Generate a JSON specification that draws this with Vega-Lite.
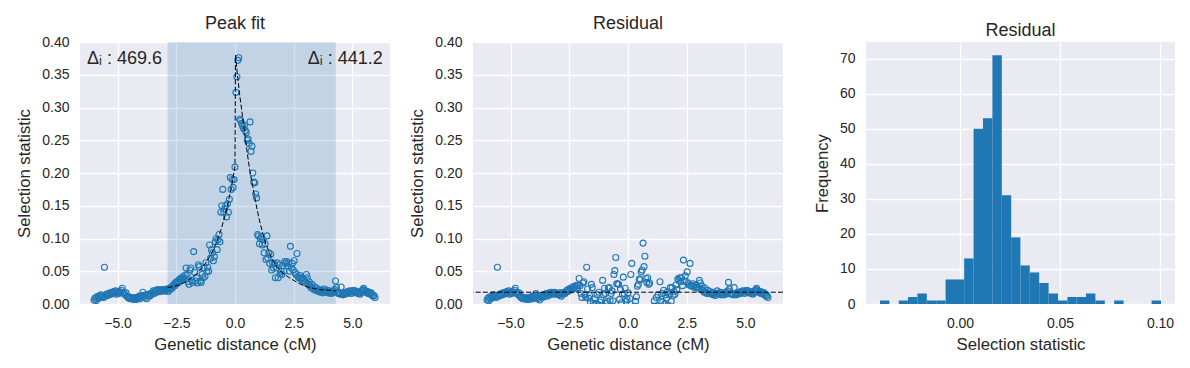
{
"$schema": "https://vega.github.io/schema/vega-lite/v6.json",
"background": "white",
"padding": {"left": 16, "top": 15, "right": 10, "bottom": 5},
"bounds": "flush",
"spacing": 83,
"config": {
  "font": "Liberation Sans",
  "view": {"fill": "#EAEAF2", "stroke": null},
  "axis": {"domain": false, "ticks": false, "tickSize": 0, "grid": true, "gridColor": "#FFFFFF", "gridWidth": 1.3, "labelFontSize": 14, "labelColor": "#262626", "titleFontSize": 16.7, "titleColor": "#262626", "titleFontWeight": "normal", "labelOverlap": false},
  "axisX": {"labelPadding": 12.5, "titlePadding": 6},
  "axisY": {"labelPadding": 11, "titlePadding": 8},
  "title": {"fontSize": 18, "fontWeight": "normal", "color": "#262626", "offset": 2, "frame": "group"}
},
"datasets": {
  "span": [{"x": -2.87, "x2": 4.29}],
  "baseline": [{"b": 0.018}],
  "labels": [{"x": -6.3, "y": 0.366, "label": "Δᵢ : 469.6", "side": "left"}, {"x": 6.29, "y": 0.366, "label": "Δᵢ : 441.2", "side": "right"}],
  "fit": [
    {"x": -2.87, "y": 0.025}, {"x": -2.6, "y": 0.027}, {"x": -2.4, "y": 0.029}, {"x": -2.2, "y": 0.032}, {"x": -2.0, "y": 0.036},
    {"x": -1.8, "y": 0.041}, {"x": -1.6, "y": 0.047}, {"x": -1.4, "y": 0.055}, {"x": -1.2, "y": 0.065}, {"x": -1.0, "y": 0.077},
    {"x": -0.8, "y": 0.093}, {"x": -0.6, "y": 0.113}, {"x": -0.4, "y": 0.138}, {"x": -0.2, "y": 0.170}, {"x": -0.1, "y": 0.189},
    {"x": 0.0, "y": 0.210}, {"x": 0.02, "y": 0.380}, {"x": 0.1, "y": 0.351}, {"x": 0.2, "y": 0.319}, {"x": 0.3, "y": 0.292},
    {"x": 0.4, "y": 0.264}, {"x": 0.5, "y": 0.236}, {"x": 0.6, "y": 0.211}, {"x": 0.7, "y": 0.190}, {"x": 0.8, "y": 0.171},
    {"x": 0.9, "y": 0.152}, {"x": 1.0, "y": 0.134}, {"x": 1.1, "y": 0.119}, {"x": 1.2, "y": 0.106}, {"x": 1.3, "y": 0.093},
    {"x": 1.4, "y": 0.084}, {"x": 1.5, "y": 0.075}, {"x": 1.6, "y": 0.067}, {"x": 1.7, "y": 0.061}, {"x": 1.8, "y": 0.056},
    {"x": 1.9, "y": 0.052}, {"x": 2.0, "y": 0.048}, {"x": 2.2, "y": 0.043}, {"x": 2.4, "y": 0.038}, {"x": 2.6, "y": 0.034},
    {"x": 2.8, "y": 0.030}, {"x": 3.0, "y": 0.027}, {"x": 3.2, "y": 0.025}, {"x": 3.6, "y": 0.022}, {"x": 4.0, "y": 0.021},
    {"x": 4.29, "y": 0.020}
  ],
  "hist": [
    {"start": -0.0400, "end": -0.0353, "count": 1},
    {"start": -0.0306, "end": -0.0260, "count": 1},
    {"start": -0.0260, "end": -0.0213, "count": 2},
    {"start": -0.0213, "end": -0.0166, "count": 3},
    {"start": -0.0166, "end": -0.0119, "count": 1},
    {"start": -0.0119, "end": -0.0072, "count": 1},
    {"start": -0.0072, "end": -0.0025, "count": 7},
    {"start": -0.0025, "end": 0.0021, "count": 7},
    {"start": 0.0021, "end": 0.0068, "count": 13},
    {"start": 0.0068, "end": 0.0115, "count": 50},
    {"start": 0.0115, "end": 0.0162, "count": 53},
    {"start": 0.0162, "end": 0.0209, "count": 71},
    {"start": 0.0209, "end": 0.0256, "count": 31},
    {"start": 0.0256, "end": 0.0302, "count": 19},
    {"start": 0.0302, "end": 0.0349, "count": 11},
    {"start": 0.0349, "end": 0.0396, "count": 9},
    {"start": 0.0396, "end": 0.0443, "count": 6},
    {"start": 0.0443, "end": 0.0490, "count": 3},
    {"start": 0.0490, "end": 0.0537, "count": 1},
    {"start": 0.0537, "end": 0.0583, "count": 2},
    {"start": 0.0583, "end": 0.0630, "count": 2},
    {"start": 0.0630, "end": 0.0677, "count": 3},
    {"start": 0.0677, "end": 0.0724, "count": 1},
    {"start": 0.0771, "end": 0.0818, "count": 1},
    {"start": 0.0958, "end": 0.1005, "count": 1}
  ],
  "points": [
    {"x": -6.00, "y": 0.006, "r": 0.006}, {"x": -5.96, "y": 0.009, "r": 0.009}, {"x": -5.92, "y": 0.005, "r": 0.005}, {"x": -5.88, "y": 0.011, "r": 0.011},
    {"x": -5.84, "y": 0.008, "r": 0.008}, {"x": -5.80, "y": 0.012, "r": 0.012}, {"x": -5.76, "y": 0.010, "r": 0.010}, {"x": -5.72, "y": 0.014, "r": 0.014},
    {"x": -5.68, "y": 0.011, "r": 0.011}, {"x": -5.64, "y": 0.013, "r": 0.013}, {"x": -5.60, "y": 0.010, "r": 0.010}, {"x": -5.56, "y": 0.056, "r": 0.056},
    {"x": -5.52, "y": 0.012, "r": 0.012}, {"x": -5.48, "y": 0.015, "r": 0.015}, {"x": -5.44, "y": 0.013, "r": 0.013}, {"x": -5.40, "y": 0.016, "r": 0.016},
    {"x": -5.36, "y": 0.014, "r": 0.014}, {"x": -5.32, "y": 0.017, "r": 0.017}, {"x": -5.28, "y": 0.015, "r": 0.015}, {"x": -5.24, "y": 0.018, "r": 0.018},
    {"x": -5.20, "y": 0.016, "r": 0.016}, {"x": -5.16, "y": 0.019, "r": 0.019}, {"x": -5.12, "y": 0.017, "r": 0.017}, {"x": -5.08, "y": 0.020, "r": 0.020},
    {"x": -5.04, "y": 0.015, "r": 0.015}, {"x": -5.00, "y": 0.018, "r": 0.018}, {"x": -4.96, "y": 0.016, "r": 0.016}, {"x": -4.92, "y": 0.019, "r": 0.019},
    {"x": -4.88, "y": 0.017, "r": 0.017}, {"x": -4.84, "y": 0.021, "r": 0.021}, {"x": -4.80, "y": 0.024, "r": 0.024}, {"x": -4.76, "y": 0.018, "r": 0.018},
    {"x": -4.72, "y": 0.016, "r": 0.016}, {"x": -4.68, "y": 0.014, "r": 0.014}, {"x": -4.64, "y": 0.017, "r": 0.017}, {"x": -4.60, "y": 0.012, "r": 0.012},
    {"x": -4.56, "y": 0.010, "r": 0.010}, {"x": -4.52, "y": 0.011, "r": 0.011}, {"x": -4.48, "y": 0.008, "r": 0.008}, {"x": -4.44, "y": 0.010, "r": 0.010},
    {"x": -4.40, "y": 0.008, "r": 0.008}, {"x": -4.36, "y": 0.009, "r": 0.009}, {"x": -4.32, "y": 0.007, "r": 0.007}, {"x": -4.28, "y": 0.010, "r": 0.010},
    {"x": -4.24, "y": 0.008, "r": 0.008}, {"x": -4.20, "y": 0.007, "r": 0.007}, {"x": -4.16, "y": 0.010, "r": 0.010}, {"x": -4.12, "y": 0.009, "r": 0.009},
    {"x": -4.08, "y": 0.012, "r": 0.012}, {"x": -4.04, "y": 0.008, "r": 0.008}, {"x": -4.00, "y": 0.011, "r": 0.011}, {"x": -3.96, "y": 0.013, "r": 0.011},
    {"x": -3.92, "y": 0.018, "r": 0.016}, {"x": -3.88, "y": 0.012, "r": 0.010}, {"x": -3.84, "y": 0.010, "r": 0.008}, {"x": -3.80, "y": 0.014, "r": 0.012},
    {"x": -3.76, "y": 0.008, "r": 0.006}, {"x": -3.72, "y": 0.013, "r": 0.011}, {"x": -3.68, "y": 0.015, "r": 0.013}, {"x": -3.64, "y": 0.012, "r": 0.010},
    {"x": -3.60, "y": 0.016, "r": 0.014}, {"x": -3.56, "y": 0.014, "r": 0.012}, {"x": -3.52, "y": 0.017, "r": 0.015}, {"x": -3.48, "y": 0.020, "r": 0.016},
    {"x": -3.44, "y": 0.016, "r": 0.012}, {"x": -3.40, "y": 0.019, "r": 0.015}, {"x": -3.36, "y": 0.021, "r": 0.017}, {"x": -3.32, "y": 0.018, "r": 0.014},
    {"x": -3.28, "y": 0.022, "r": 0.018}, {"x": -3.24, "y": 0.020, "r": 0.016}, {"x": -3.20, "y": 0.021, "r": 0.017}, {"x": -3.16, "y": 0.019, "r": 0.015},
    {"x": -3.12, "y": 0.022, "r": 0.018}, {"x": -3.08, "y": 0.021, "r": 0.016}, {"x": -3.04, "y": 0.020, "r": 0.015}, {"x": -3.00, "y": 0.022, "r": 0.016},
    {"x": -2.96, "y": 0.020, "r": 0.014}, {"x": -2.92, "y": 0.023, "r": 0.017}, {"x": -2.88, "y": 0.021, "r": 0.015}, {"x": -2.84, "y": 0.019, "r": 0.012},
    {"x": -2.80, "y": 0.024, "r": 0.017}, {"x": -2.76, "y": 0.022, "r": 0.015}, {"x": -2.72, "y": 0.026, "r": 0.018}, {"x": -2.68, "y": 0.024, "r": 0.016},
    {"x": -2.64, "y": 0.027, "r": 0.018}, {"x": -2.60, "y": 0.030, "r": 0.021}, {"x": -2.56, "y": 0.028, "r": 0.019}, {"x": -2.52, "y": 0.033, "r": 0.023},
    {"x": -2.48, "y": 0.031, "r": 0.021}, {"x": -2.44, "y": 0.035, "r": 0.024}, {"x": -2.40, "y": 0.033, "r": 0.022}, {"x": -2.36, "y": 0.038, "r": 0.026},
    {"x": -2.32, "y": 0.036, "r": 0.024}, {"x": -2.28, "y": 0.040, "r": 0.027}, {"x": -2.24, "y": 0.038, "r": 0.024}, {"x": -2.20, "y": 0.042, "r": 0.028},
    {"x": -2.16, "y": 0.039, "r": 0.024}, {"x": -2.12, "y": 0.044, "r": 0.029}, {"x": -2.08, "y": 0.055, "r": 0.039}, {"x": -2.04, "y": 0.045, "r": 0.028},
    {"x": -2.00, "y": 0.034, "r": 0.016}, {"x": -1.96, "y": 0.030, "r": 0.010}, {"x": -1.92, "y": 0.052, "r": 0.032}, {"x": -1.88, "y": 0.055, "r": 0.034},
    {"x": -1.84, "y": 0.036, "r": 0.014}, {"x": -1.80, "y": 0.033, "r": 0.010}, {"x": -1.76, "y": 0.080, "r": 0.056}, {"x": -1.72, "y": 0.048, "r": 0.023},
    {"x": -1.68, "y": 0.035, "r": 0.009}, {"x": -1.64, "y": 0.040, "r": 0.013}, {"x": -1.60, "y": 0.032, "r": 0.003}, {"x": -1.56, "y": 0.060, "r": 0.030},
    {"x": -1.52, "y": 0.057, "r": 0.025}, {"x": -1.48, "y": 0.035, "r": 0.001}, {"x": -1.44, "y": 0.033, "r": -0.002}, {"x": -1.40, "y": 0.045, "r": 0.008},
    {"x": -1.36, "y": 0.040, "r": 0.001}, {"x": -1.32, "y": 0.055, "r": 0.014}, {"x": -1.28, "y": 0.042, "r": -0.001}, {"x": -1.24, "y": 0.063, "r": 0.018},
    {"x": -1.20, "y": 0.050, "r": 0.003}, {"x": -1.16, "y": 0.056, "r": 0.006}, {"x": -1.12, "y": 0.050, "r": -0.002}, {"x": -1.08, "y": 0.090, "r": 0.036},
    {"x": -1.04, "y": 0.070, "r": 0.014}, {"x": -1.00, "y": 0.083, "r": 0.024}, {"x": -0.96, "y": 0.078, "r": 0.016}, {"x": -0.92, "y": 0.066, "r": 0.001},
    {"x": -0.88, "y": 0.072, "r": 0.004}, {"x": -0.84, "y": 0.095, "r": 0.024}, {"x": -0.80, "y": 0.100, "r": 0.025}, {"x": -0.76, "y": 0.083, "r": 0.005},
    {"x": -0.72, "y": 0.098, "r": 0.016}, {"x": -0.68, "y": 0.106, "r": 0.020}, {"x": -0.64, "y": 0.095, "r": 0.005}, {"x": -0.60, "y": 0.140, "r": 0.045},
    {"x": -0.56, "y": 0.150, "r": 0.051}, {"x": -0.52, "y": 0.175, "r": 0.071}, {"x": -0.48, "y": 0.140, "r": 0.031}, {"x": -0.44, "y": 0.145, "r": 0.031},
    {"x": -0.40, "y": 0.150, "r": 0.030}, {"x": -0.36, "y": 0.133, "r": 0.007}, {"x": -0.32, "y": 0.153, "r": 0.022}, {"x": -0.28, "y": 0.140, "r": 0.002},
    {"x": -0.24, "y": 0.160, "r": 0.015}, {"x": -0.20, "y": 0.193, "r": 0.041}, {"x": -0.16, "y": 0.175, "r": 0.016}, {"x": -0.12, "y": 0.190, "r": 0.024},
    {"x": -0.08, "y": 0.178, "r": 0.004}, {"x": -0.04, "y": 0.190, "r": 0.007}, {"x": 0.00, "y": 0.209, "r": 0.017}, {"x": 0.04, "y": 0.323, "r": -0.027},
    {"x": 0.08, "y": 0.347, "r": 0.008}, {"x": 0.12, "y": 0.372, "r": 0.045}, {"x": 0.16, "y": 0.376, "r": 0.062}, {"x": 0.20, "y": 0.282, "r": -0.019},
    {"x": 0.24, "y": 0.280, "r": -0.010}, {"x": 0.28, "y": 0.276, "r": -0.003}, {"x": 0.32, "y": 0.272, "r": 0.004}, {"x": 0.36, "y": 0.268, "r": 0.011},
    {"x": 0.40, "y": 0.273, "r": 0.027}, {"x": 0.44, "y": 0.265, "r": 0.030}, {"x": 0.48, "y": 0.262, "r": 0.038}, {"x": 0.52, "y": 0.250, "r": 0.037},
    {"x": 0.56, "y": 0.252, "r": 0.049}, {"x": 0.60, "y": 0.245, "r": 0.052}, {"x": 0.64, "y": 0.278, "r": 0.093}, {"x": 0.68, "y": 0.233, "r": 0.057},
    {"x": 0.72, "y": 0.241, "r": 0.073}, {"x": 0.76, "y": 0.200, "r": 0.039}, {"x": 0.80, "y": 0.186, "r": 0.033}, {"x": 0.84, "y": 0.185, "r": 0.040},
    {"x": 0.88, "y": 0.168, "r": 0.030}, {"x": 0.92, "y": 0.162, "r": 0.032}, {"x": 0.96, "y": 0.106, "r": -0.017}, {"x": 1.00, "y": 0.104, "r": -0.012},
    {"x": 1.04, "y": 0.092, "r": -0.018}, {"x": 1.08, "y": 0.100, "r": -0.004}, {"x": 1.12, "y": 0.103, "r": 0.005}, {"x": 1.16, "y": 0.090, "r": -0.003},
    {"x": 1.20, "y": 0.098, "r": 0.010}, {"x": 1.24, "y": 0.078, "r": -0.005}, {"x": 1.28, "y": 0.092, "r": 0.014}, {"x": 1.32, "y": 0.068, "r": -0.006},
    {"x": 1.36, "y": 0.104, "r": 0.034}, {"x": 1.40, "y": 0.070, "r": 0.004}, {"x": 1.44, "y": 0.078, "r": 0.016}, {"x": 1.48, "y": 0.062, "r": 0.003},
    {"x": 1.52, "y": 0.076, "r": 0.021}, {"x": 1.56, "y": 0.052, "r": 0.000}, {"x": 1.60, "y": 0.063, "r": 0.014}, {"x": 1.64, "y": 0.055, "r": 0.009},
    {"x": 1.68, "y": 0.062, "r": 0.019}, {"x": 1.72, "y": 0.040, "r": -0.002}, {"x": 1.76, "y": 0.055, "r": 0.015}, {"x": 1.80, "y": 0.063, "r": 0.025},
    {"x": 1.84, "y": 0.040, "r": 0.004}, {"x": 1.88, "y": 0.060, "r": 0.025}, {"x": 1.92, "y": 0.046, "r": 0.013}, {"x": 1.96, "y": 0.050, "r": 0.019},
    {"x": 2.00, "y": 0.045, "r": 0.015}, {"x": 2.04, "y": 0.058, "r": 0.029}, {"x": 2.08, "y": 0.050, "r": 0.022}, {"x": 2.12, "y": 0.065, "r": 0.038},
    {"x": 2.16, "y": 0.062, "r": 0.036}, {"x": 2.20, "y": 0.065, "r": 0.040}, {"x": 2.24, "y": 0.058, "r": 0.034}, {"x": 2.28, "y": 0.063, "r": 0.040},
    {"x": 2.32, "y": 0.050, "r": 0.028}, {"x": 2.36, "y": 0.088, "r": 0.067}, {"x": 2.40, "y": 0.055, "r": 0.035}, {"x": 2.44, "y": 0.062, "r": 0.043},
    {"x": 2.48, "y": 0.052, "r": 0.034}, {"x": 2.52, "y": 0.066, "r": 0.049}, {"x": 2.56, "y": 0.048, "r": 0.032}, {"x": 2.60, "y": 0.045, "r": 0.029},
    {"x": 2.64, "y": 0.077, "r": 0.062}, {"x": 2.68, "y": 0.042, "r": 0.028}, {"x": 2.72, "y": 0.040, "r": 0.027}, {"x": 2.76, "y": 0.044, "r": 0.031},
    {"x": 2.80, "y": 0.038, "r": 0.026}, {"x": 2.84, "y": 0.040, "r": 0.029}, {"x": 2.88, "y": 0.036, "r": 0.025}, {"x": 2.92, "y": 0.039, "r": 0.029},
    {"x": 2.96, "y": 0.035, "r": 0.026}, {"x": 3.00, "y": 0.033, "r": 0.024}, {"x": 3.04, "y": 0.045, "r": 0.036}, {"x": 3.08, "y": 0.040, "r": 0.032},
    {"x": 3.12, "y": 0.030, "r": 0.022}, {"x": 3.16, "y": 0.034, "r": 0.027}, {"x": 3.20, "y": 0.028, "r": 0.021}, {"x": 3.24, "y": 0.025, "r": 0.018},
    {"x": 3.28, "y": 0.030, "r": 0.024}, {"x": 3.32, "y": 0.024, "r": 0.018}, {"x": 3.36, "y": 0.022, "r": 0.016}, {"x": 3.40, "y": 0.026, "r": 0.021},
    {"x": 3.44, "y": 0.021, "r": 0.016}, {"x": 3.48, "y": 0.024, "r": 0.019}, {"x": 3.52, "y": 0.020, "r": 0.016}, {"x": 3.56, "y": 0.019, "r": 0.015},
    {"x": 3.60, "y": 0.022, "r": 0.018}, {"x": 3.64, "y": 0.018, "r": 0.014}, {"x": 3.68, "y": 0.021, "r": 0.017}, {"x": 3.72, "y": 0.017, "r": 0.013},
    {"x": 3.76, "y": 0.020, "r": 0.016}, {"x": 3.80, "y": 0.023, "r": 0.020}, {"x": 3.84, "y": 0.019, "r": 0.016}, {"x": 3.88, "y": 0.018, "r": 0.015},
    {"x": 3.92, "y": 0.021, "r": 0.018}, {"x": 3.96, "y": 0.017, "r": 0.014}, {"x": 4.00, "y": 0.020, "r": 0.017}, {"x": 4.04, "y": 0.018, "r": 0.015},
    {"x": 4.08, "y": 0.016, "r": 0.014}, {"x": 4.12, "y": 0.019, "r": 0.017}, {"x": 4.16, "y": 0.017, "r": 0.015}, {"x": 4.20, "y": 0.020, "r": 0.018},
    {"x": 4.24, "y": 0.022, "r": 0.020}, {"x": 4.28, "y": 0.035, "r": 0.033}, {"x": 4.32, "y": 0.025, "r": 0.023}, {"x": 4.36, "y": 0.018, "r": 0.016},
    {"x": 4.40, "y": 0.016, "r": 0.015}, {"x": 4.44, "y": 0.017, "r": 0.016}, {"x": 4.48, "y": 0.015, "r": 0.014}, {"x": 4.52, "y": 0.026, "r": 0.025},
    {"x": 4.56, "y": 0.016, "r": 0.015}, {"x": 4.60, "y": 0.014, "r": 0.014}, {"x": 4.64, "y": 0.017, "r": 0.017}, {"x": 4.68, "y": 0.015, "r": 0.015},
    {"x": 4.72, "y": 0.018, "r": 0.018}, {"x": 4.76, "y": 0.016, "r": 0.016}, {"x": 4.80, "y": 0.019, "r": 0.019}, {"x": 4.84, "y": 0.017, "r": 0.017},
    {"x": 4.88, "y": 0.020, "r": 0.020}, {"x": 4.92, "y": 0.018, "r": 0.018}, {"x": 4.96, "y": 0.016, "r": 0.016}, {"x": 5.00, "y": 0.019, "r": 0.019},
    {"x": 5.04, "y": 0.021, "r": 0.021}, {"x": 5.08, "y": 0.018, "r": 0.018}, {"x": 5.12, "y": 0.020, "r": 0.020}, {"x": 5.16, "y": 0.017, "r": 0.017},
    {"x": 5.20, "y": 0.019, "r": 0.019}, {"x": 5.24, "y": 0.016, "r": 0.016}, {"x": 5.28, "y": 0.018, "r": 0.018}, {"x": 5.32, "y": 0.015, "r": 0.015},
    {"x": 5.36, "y": 0.017, "r": 0.017}, {"x": 5.40, "y": 0.020, "r": 0.020}, {"x": 5.44, "y": 0.022, "r": 0.022}, {"x": 5.48, "y": 0.024, "r": 0.024},
    {"x": 5.52, "y": 0.021, "r": 0.021}, {"x": 5.56, "y": 0.019, "r": 0.019}, {"x": 5.60, "y": 0.017, "r": 0.017}, {"x": 5.64, "y": 0.019, "r": 0.019},
    {"x": 5.68, "y": 0.016, "r": 0.016}, {"x": 5.72, "y": 0.018, "r": 0.018}, {"x": 5.76, "y": 0.015, "r": 0.015}, {"x": 5.80, "y": 0.017, "r": 0.017},
    {"x": 5.84, "y": 0.014, "r": 0.014}, {"x": 5.88, "y": 0.012, "r": 0.012}, {"x": 5.92, "y": 0.013, "r": 0.013}, {"x": 5.96, "y": 0.010, "r": 0.010}
  ]
},
"hconcat": [
  {
    "width": 310, "height": 262,
    "title": "Peak fit",
    "layer": [
      {
        "data": {"name": "span"},
        "mark": {"type": "rect", "color": "#1f77b4", "opacity": 0.2},
        "encoding": {
          "x": {"field": "x", "type": "quantitative", "title": "Genetic distance (cM)", "scale": {"domain": [-6.6, 6.6], "nice": false, "zero": false}, "axis": {"values": [-5, -2.5, 0, 2.5, 5], "format": ".1f"}},
          "x2": {"field": "x2"}
        }
      },
      {
        "data": {"name": "points"},
        "mark": {"type": "point", "shape": "circle", "filled": false, "color": "#1f77b4", "size": 36, "strokeWidth": 1.1, "opacity": 1, "clip": true},
        "encoding": {
          "x": {"field": "x", "type": "quantitative", "title": "Genetic distance (cM)", "scale": {"domain": [-6.6, 6.6], "nice": false, "zero": false}, "axis": {"values": [-5, -2.5, 0, 2.5, 5], "format": ".1f"}},
          "y": {"field": "y", "type": "quantitative", "title": "Selection statistic", "scale": {"domain": [0, 0.4], "nice": false}, "axis": {"values": [0, 0.05, 0.1, 0.15, 0.2, 0.25, 0.3, 0.35, 0.4], "format": ".2f"}}
        }
      },
      {
        "data": {"name": "fit"},
        "mark": {"type": "line", "color": "black", "strokeWidth": 1, "strokeDash": [5, 2.2]},
        "encoding": {
          "x": {"field": "x", "type": "quantitative", "title": "Genetic distance (cM)", "axis": {"values": [-5, -2.5, 0, 2.5, 5], "format": ".1f"}},
          "y": {"field": "y", "type": "quantitative", "title": "Selection statistic", "axis": {"values": [0, 0.05, 0.1, 0.15, 0.2, 0.25, 0.3, 0.35, 0.4], "format": ".2f"}}
        }
      },
      {
        "data": {"name": "labels"},
        "transform": [{"filter": "datum.side == 'left'"}],
        "mark": {"type": "text", "align": "left", "baseline": "alphabetic", "fontSize": 18, "color": "#262626"},
        "encoding": {
          "x": {"field": "x", "type": "quantitative", "title": "Genetic distance (cM)", "axis": {"values": [-5, -2.5, 0, 2.5, 5], "format": ".1f"}},
          "y": {"field": "y", "type": "quantitative", "title": "Selection statistic", "axis": {"values": [0, 0.05, 0.1, 0.15, 0.2, 0.25, 0.3, 0.35, 0.4], "format": ".2f"}},
          "text": {"field": "label"}
        }
      },
      {
        "data": {"name": "labels"},
        "transform": [{"filter": "datum.side == 'right'"}],
        "mark": {"type": "text", "align": "right", "baseline": "alphabetic", "fontSize": 18, "color": "#262626"},
        "encoding": {
          "x": {"field": "x", "type": "quantitative", "title": "Genetic distance (cM)", "axis": {"values": [-5, -2.5, 0, 2.5, 5], "format": ".1f"}},
          "y": {"field": "y", "type": "quantitative", "title": "Selection statistic", "axis": {"values": [0, 0.05, 0.1, 0.15, 0.2, 0.25, 0.3, 0.35, 0.4], "format": ".2f"}},
          "text": {"field": "label"}
        }
      }
    ]
  },
  {
    "width": 310, "height": 262,
    "title": "Residual",
    "layer": [
      {
        "data": {"name": "points"},
        "mark": {"type": "point", "shape": "circle", "filled": false, "color": "#1f77b4", "size": 36, "strokeWidth": 1.1, "opacity": 1, "clip": true},
        "encoding": {
          "x": {"field": "x", "type": "quantitative", "title": "Genetic distance (cM)", "scale": {"domain": [-6.6, 6.6], "nice": false, "zero": false}, "axis": {"values": [-5, -2.5, 0, 2.5, 5], "format": ".1f"}},
          "y": {"field": "r", "type": "quantitative", "title": "Selection statistic", "scale": {"domain": [0, 0.4], "nice": false}, "axis": {"values": [0, 0.05, 0.1, 0.15, 0.2, 0.25, 0.3, 0.35, 0.4], "format": ".2f"}}
        }
      },
      {
        "data": {"name": "baseline"},
        "mark": {"type": "rule", "color": "black", "strokeWidth": 1, "strokeDash": [5, 2.2]},
        "encoding": {
          "y": {"field": "b", "type": "quantitative", "title": "Selection statistic", "axis": {"values": [0, 0.05, 0.1, 0.15, 0.2, 0.25, 0.3, 0.35, 0.4], "format": ".2f"}}
        }
      }
    ]
  },
  {
    "width": 309, "height": 262,
    "title": "Residual",
    "data": {"name": "hist"},
    "mark": {"type": "rect", "color": "#1f77b4", "opacity": 1},
    "encoding": {
      "x": {"field": "start", "type": "quantitative", "title": "Selection statistic", "scale": {"domain": [-0.047, 0.1075], "nice": false, "zero": false}, "axis": {"values": [0, 0.05, 0.1], "format": ".2f"}},
      "x2": {"field": "end"},
      "y": {"field": "count", "type": "quantitative", "title": "Frequency", "scale": {"domain": [0, 74.75], "nice": false}, "axis": {"values": [0, 10, 20, 30, 40, 50, 60, 70], "format": "d"}},
      "y2": {"datum": 0}
    }
  }
]
}
